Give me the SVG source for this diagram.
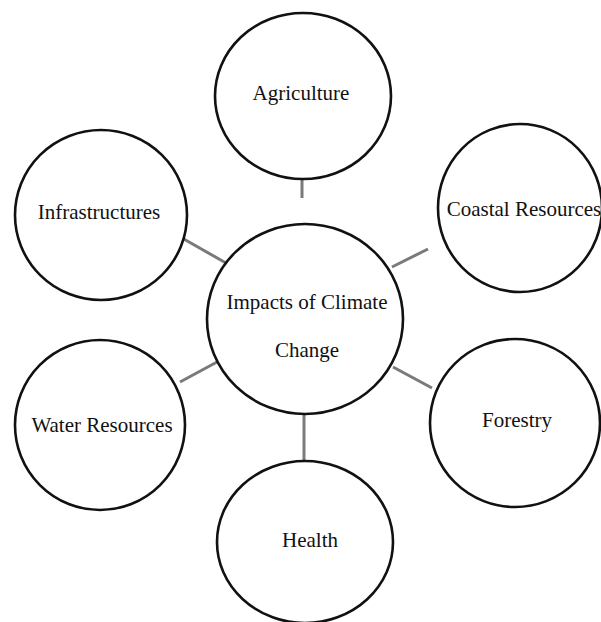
<svg xmlns="http://www.w3.org/2000/svg" width="601" height="622" viewBox="0 0 601 622">
  <style>
    .node ellipse { fill: #ffffff; stroke: #111111; stroke-width: 2.6; }
    .node text { font-family: "Liberation Serif", "Times New Roman", serif; font-size: 21px; fill: #111111; text-anchor: middle; }
    .links line { stroke: #7a7a7a; stroke-width: 3; stroke-linecap: butt; }
  </style>
  <rect width="601" height="622" fill="#ffffff"/>

  <!-- spokes from the hub to each impact area -->
  <g id="connectors" class="links">
    <line x1="302" y1="180" x2="302" y2="198"/>
    <line x1="182" y1="238" x2="226" y2="263"/>
    <line x1="392" y1="267" x2="428" y2="249"/>
    <line x1="180" y1="382" x2="217" y2="362"/>
    <line x1="393" y1="367" x2="432" y2="388"/>
    <line x1="304" y1="413" x2="304" y2="461"/>
  </g>

  <g id="hub" class="node">
    <ellipse cx="305" cy="319" rx="98" ry="95"/>
    <text x="307" y="309">Impacts of Climate</text>
    <text x="307" y="357">Change</text>
  </g>

  <g id="agriculture" class="node">
    <ellipse cx="303" cy="96" rx="88" ry="83"/>
    <text x="301" y="100">Agriculture</text>
  </g>

  <g id="coastal" class="node">
    <ellipse cx="520" cy="208" rx="82" ry="84"/>
    <text x="524" y="216">Coastal Resources</text>
  </g>

  <g id="infrastructures" class="node">
    <ellipse cx="101" cy="215" rx="86" ry="85"/>
    <text x="99" y="219">Infrastructures</text>
  </g>

  <g id="water" class="node">
    <ellipse cx="100" cy="425" rx="85" ry="85"/>
    <text x="102" y="432">Water Resources</text>
  </g>

  <g id="forestry" class="node">
    <ellipse cx="515" cy="423" rx="85" ry="84"/>
    <text x="517" y="427">Forestry</text>
  </g>

  <g id="health" class="node">
    <ellipse cx="305" cy="542" rx="88" ry="81"/>
    <text x="310" y="547">Health</text>
  </g>
</svg>
